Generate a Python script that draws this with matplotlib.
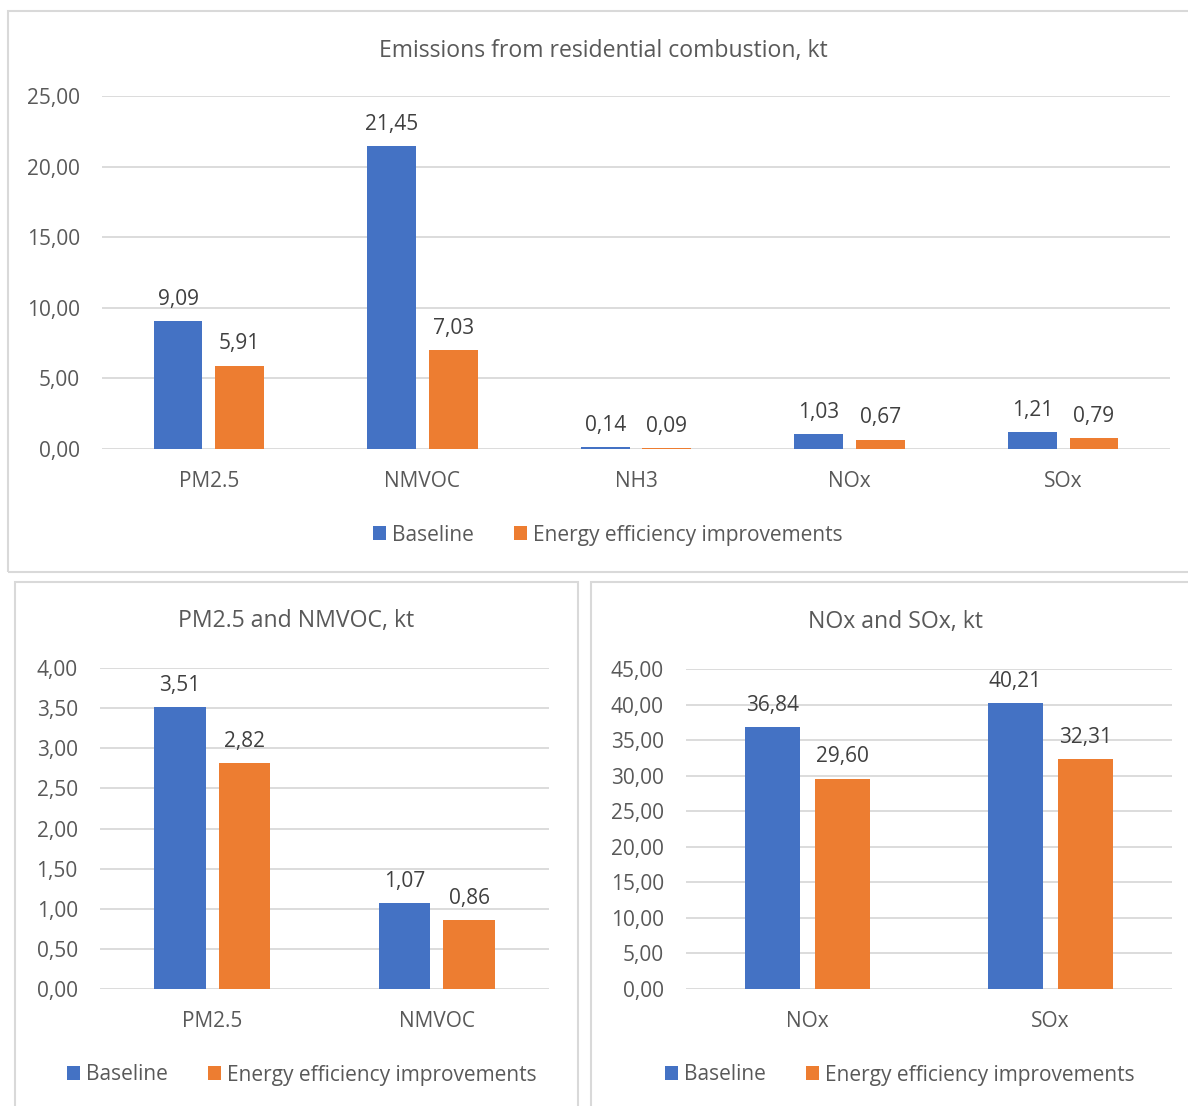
import matplotlib.pyplot as plt
from matplotlib.patches import Rectangle

plt.rcParams['font.family'] = ['Open Sans', 'DejaVu Sans']

# Emission data, kt
top_categories = ['PM2.5', 'NMVOC', 'NH3', 'NOx', 'SOx']
top_baseline = [9.09, 21.45, 0.14, 1.03, 1.21]
top_efficiency = [5.91, 7.03, 0.09, 0.67, 0.79]

pm_categories = ['PM2.5', 'NMVOC']
pm_baseline = [3.51, 1.07]
pm_efficiency = [2.82, 0.86]

nox_categories = ['NOx', 'SOx']
nox_baseline = [36.84, 40.21]
nox_efficiency = [29.60, 32.31]

series_names = ['Baseline', 'Energy efficiency improvements']

BLUE = '#4472C4'
ORANGE = '#ED7D31'
TEXT = '#595959'
GRID = '#D9D9D9'

W, H = 1188, 1106
fig = plt.figure(figsize=(W / 100, H / 100), dpi=100)


def fx(x):
    return x / W


def fy(y):
    return 1 - y / H


def comma(v):
    return f'{v:.2f}'.replace('.', ',')


def panel_box(x0, y0, x1, y1):
    fig.patches.append(Rectangle((fx(x0), fy(y1)), fx(x1 - x0), (y1 - y0) / H,
                                 transform=fig.transFigure, fill=False,
                                 edgecolor=GRID, linewidth=1.5))


def bar_chart(area, cats, base, eff, ymax, step, title, title_xy, legend_xy):
    x0, y0, x1, y1 = area
    ax = fig.add_axes([fx(x0), fy(y1), fx(x1 - x0), (y1 - y0) / H])
    pos = list(range(len(cats)))
    w = 0.228
    off = 0.144
    b1 = ax.bar([p - off for p in pos], base, w, color=BLUE, label=series_names[0])
    b2 = ax.bar([p + off for p in pos], eff, w, color=ORANGE, label=series_names[1])
    for bars, vals in ((b1, base), (b2, eff)):
        ax.bar_label(bars, labels=[comma(v) for v in vals], padding=8,
                     fontsize=15, color='#404040')
    ax.set_xlim(-0.5, len(cats) - 0.5)
    ax.set_ylim(0, ymax)
    ticks = [i * step for i in range(int(round(ymax / step)) + 1)]
    ax.set_yticks(ticks)
    ax.set_yticklabels([comma(t) for t in ticks])
    ax.set_xticks(pos)
    ax.set_xticklabels(cats)
    ax.tick_params(length=0, labelsize=15, colors=TEXT)
    ax.tick_params(axis='y', pad=16)
    ax.tick_params(axis='x', pad=16)
    ax.grid(axis='y', color=GRID, linewidth=1.3)
    ax.set_axisbelow(True)
    for s in ax.spines.values():
        s.set_visible(False)
    fig.text(fx(title_xy[0]), fy(title_xy[1]), title, ha='center', va='center',
             fontsize=16.6, color=TEXT)
    fig.legend(handles=[b1, b2], loc='center', bbox_to_anchor=(fx(legend_xy[0]), fy(legend_xy[1])),
               ncol=2, frameon=False, fontsize=15, labelcolor=TEXT,
               handlelength=0.62, handleheight=0.62, handletextpad=0.3,
               columnspacing=1.9)
    return ax


panel_box(8, 11, 1198, 572)
panel_box(15, 582, 578, 1116)
panel_box(591, 582, 1198, 1116)

bar_chart((102, 96, 1170, 449), top_categories, top_baseline, top_efficiency,
          25, 5, 'Emissions from residential combustion, kt', (603, 51), (608, 535))
bar_chart((100, 668, 549, 989), pm_categories, pm_baseline, pm_efficiency,
          4, 0.5, 'PM2.5 and NMVOC, kt', (296, 621), (302, 1075))
bar_chart((686, 669, 1172, 989), nox_categories, nox_baseline, nox_efficiency,
          45, 5, 'NOx and SOx, kt', (895, 622), (900, 1075))

fig.savefig('out.png', dpi=100)
